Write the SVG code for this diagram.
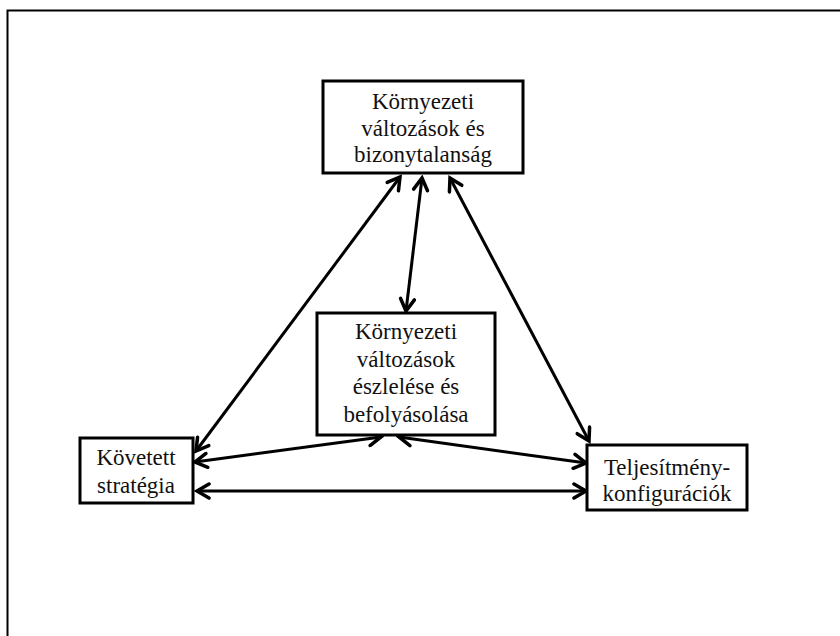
<svg xmlns="http://www.w3.org/2000/svg" width="840" height="636" viewBox="0 0 840 636">
<style>
.box{fill:#fff;stroke:#000;stroke-width:3}
.t{font-family:"Liberation Serif","Times New Roman",serif;font-size:23px;fill:#111;text-anchor:middle}
.c{stroke:#000;stroke-width:3;fill:none;marker-start:url(#ah);marker-end:url(#ah)}
</style>
<defs>
<marker id="ah" markerUnits="userSpaceOnUse" markerWidth="18" markerHeight="18" viewBox="0 0 18 18" refX="15" refY="9" orient="auto-start-reverse">
<path d="M3,2 L15,9 L3,16" fill="none" stroke="#000" stroke-width="3.5" stroke-linecap="round" stroke-linejoin="miter"/>
</marker>
</defs>
<path d="M7.5,640 V10.5 H842" fill="none" stroke="#000" stroke-width="2"/>
<g id="connectors">
<line class="c" x1="196" y1="451" x2="400" y2="177"/>
<line class="c" x1="406" y1="311" x2="422" y2="178"/>
<line class="c" x1="450" y1="178" x2="589" y2="441"/>
<line class="c" x1="195" y1="462" x2="381" y2="437"/>
<line class="c" x1="399" y1="437" x2="586" y2="463"/>
<line class="c" x1="197" y1="491" x2="586" y2="491"/>
</g>
<g id="node-top">
<rect class="box" x="323" y="81" width="200" height="92"/>
<text class="t" x="423" y="109">Környezeti</text>
<text class="t" x="423" y="136">változások és</text>
<text class="t" x="423" y="162">bizonytalanság</text>
</g>
<g id="node-middle">
<rect class="box" x="317" y="313" width="178" height="122"/>
<text class="t" x="406" y="339">Környezeti</text>
<text class="t" x="406" y="367">változások</text>
<text class="t" x="406" y="394">észlelése és</text>
<text class="t" x="406" y="422">befolyásolása</text>
</g>
<g id="node-left">
<rect class="box" x="80" y="438" width="113" height="65"/>
<text class="t" x="136" y="465">Követett</text>
<text class="t" x="136" y="493">stratégia</text>
</g>
<g id="node-right">
<rect class="box" x="587" y="445" width="160" height="65"/>
<text class="t" x="667" y="475">Teljesítmény-</text>
<text class="t" x="667" y="501">konfigurációk</text>
</g>
</svg>
